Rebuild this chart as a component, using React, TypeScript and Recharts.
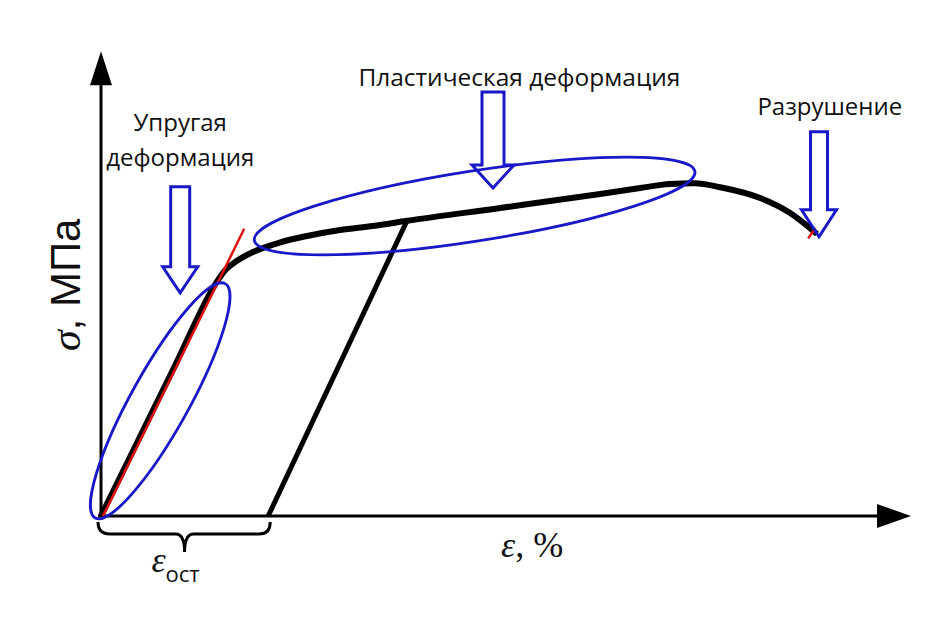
import React from "react";
import { LineChart, Line, XAxis, YAxis, ReferenceLine, ReferenceDot } from "recharts";

// stress-strain curve (schematic units)
const loadStrain = [0, 4.6, 9.3, 14.5, 15.6, 17, 19, 22.4, 25.75, 29.9, 34, 38.25, 49.9, 62.4, 67.4, 71.1, 74.25, 77.4, 82.4, 86.1, 89.5];
const loadStress = [0, 9.35, 18.9, 29.3, 30.8, 31.9, 33, 34.2, 35, 35.75, 36.25, 36.9, 38.5, 40.25, 41, 41.5, 41.6, 41.1, 39.75, 37.9, 35.25];
const unloadStrain = [38.25, 20.9];
const unloadStress = [36.9, 0];
const hookeStrain = [0.25, 17.9];
const hookeStress = [0, 35.9];

const labelElastic = ["Упругая", "деформация"];
const labelPlastic = "Пластическая деформация";
const labelFracture = "Разрушение";

const toPoints = (xs: number[], ys: number[]) => xs.map((x, i) => ({ x, y: ys[i] }));
const loadData = toPoints(loadStrain, loadStress);
const unloadData = toPoints(unloadStrain, unloadStress);
const hookeData = toPoints(hookeStrain, hookeStress);

const BLUE = "#1818c8";
const SANS = "'Open Sans', sans-serif";
const SERIF = "'Liberation Serif', serif";

const arrowShape = (len: number, shaft: number, headLen: number, headHalf: number) => (p: any) => {
  const { cx, cy } = p;
  const d = `M${cx},${cy} L${cx - headHalf},${cy - headLen} L${cx - shaft},${cy - headLen} L${cx - shaft},${cy - len} L${cx + shaft},${cy - len} L${cx + shaft},${cy - headLen} L${cx + headHalf},${cy - headLen} Z`;
  return <path d={d} fill="none" stroke={BLUE} strokeWidth={3} strokeLinejoin="miter" />;
};

const ellipseShape = (rx: number, ry: number, angle: number) => (p: any) => (
  <ellipse cx={p.cx} cy={p.cy} rx={rx} ry={ry} transform={`rotate(${angle} ${p.cx} ${p.cy})`} fill="none" stroke={BLUE} strokeWidth={2.8} />
);

const textShape = (lines: string[], size: number, gap: number) => (p: any) => (
  <text x={p.cx} y={p.cy} textAnchor="middle" fontFamily={SANS} fontSize={size} fill="#111">
    {lines.map((t, i) => (
      <tspan key={i} x={p.cx} dy={i === 0 ? 0 : gap}>{t}</tspan>
    ))}
  </text>
);

const xAxisShape = (p: any) => (
  <g>
    <line x1={p.x1 - 3} y1={p.y1} x2={p.x2 - 30} y2={p.y2} stroke="#000" strokeWidth={3} />
    <polygon points={`${p.x2},${p.y2} ${p.x2 - 34},${p.y2 - 12} ${p.x2 - 34},${p.y2 + 12}`} fill="#000" />
  </g>
);

const yAxisShape = (p: any) => (
  <g>
    <line x1={p.x1} y1={p.y1 + 1} x2={p.x2} y2={p.y2 + 30} stroke="#000" strokeWidth={3} />
    <polygon points={`${p.x2},${p.y2} ${p.x2 - 11},${p.y2 + 34} ${p.x2 + 11},${p.y2 + 34}`} fill="#000" />
  </g>
);

const braceShape = (p: any) => {
  const y = p.y1;
  const m = (p.x1 + p.x2) / 2;
  const d = `M${p.x1 - 3},${y + 6} Q${p.x1 - 3},${y + 18} ${p.x1 + 9},${y + 18} L${m - 9},${y + 18} Q${m},${y + 18} ${m},${y + 36} Q${m},${y + 18} ${m + 9},${y + 18} L${p.x2 - 9},${y + 18} Q${p.x2 + 2},${y + 18} ${p.x2 + 2},${y + 6}`;
  return <path d={d} fill="none" stroke="#000" strokeWidth={3} />;
};

export default function App() {
  return (
    <div style={{ position: "absolute", left: 0, top: 0, background: "#fff" }}>
      <LineChart width={944} height={638} margin={{ top: 36, right: 27, bottom: 122, left: 101 }}>
        <XAxis type="number" dataKey="x" domain={[0, 102]} hide />
        <YAxis type="number" dataKey="y" domain={[0, 60]} hide />

        <ReferenceLine segment={[{ x: 0, y: 0 }, { x: 101.25, y: 0 }]} ifOverflow="visible" shape={xAxisShape} />
        <ReferenceLine segment={[{ x: 0, y: 0 }, { x: 0, y: 58.1 }]} ifOverflow="visible" shape={yAxisShape} />
        <ReferenceLine segment={[{ x: 0, y: 0 }, { x: 20.9, y: 0 }]} ifOverflow="visible" shape={braceShape} />

        <Line data={loadData} dataKey="y" type="monotone" stroke="#000" strokeWidth={6} dot={false} isAnimationActive={false} />
        <Line data={unloadData} dataKey="y" type="linear" stroke="#000" strokeWidth={5} dot={false} isAnimationActive={false} />
        <Line data={hookeData} dataKey="y" type="linear" stroke="#e01010" strokeWidth={2.5} dot={false} isAnimationActive={false} />

        <ReferenceLine segment={[{ x: 88.4, y: 34.7 }, { x: 89.3, y: 36 }]} ifOverflow="visible" stroke="#e01010" strokeWidth={2.5} />

        <ReferenceDot x={7.4} y={14.4} r={1} ifOverflow="visible" shape={ellipseShape(134, 29, -61)} />
        <ReferenceDot x={46.7} y={38.75} r={1} ifOverflow="visible" shape={ellipseShape(223, 35, -8.9)} />

        <ReferenceDot x={9.9} y={27.9} r={1} ifOverflow="visible" shape={arrowShape(106, 9.5, 26, 17.5)} />
        <ReferenceDot x={49} y={41} r={1} ifOverflow="visible" shape={arrowShape(96, 11, 23, 21)} />
        <ReferenceDot x={89.75} y={34.9} r={1} ifOverflow="visible" shape={arrowShape(105, 8.5, 27, 17.5)} />

        <ReferenceDot x={9.9} y={48.1} r={1} ifOverflow="visible" shape={textShape(labelElastic, 24, 35)} />
        <ReferenceDot x={52.3} y={53.75} r={1} ifOverflow="visible" shape={textShape([labelPlastic], 24.5, 0)} />
        <ReferenceDot x={91.1} y={50.1} r={1} ifOverflow="visible" shape={textShape([labelFracture], 24, 0)} />

        <ReferenceDot
          x={-2.6}
          y={28.9}
          r={1}
          ifOverflow="visible"
          shape={(p: any) => (
            <text x={p.cx} y={p.cy} transform={`rotate(-90 ${p.cx} ${p.cy})`} textAnchor="middle" fontSize={42} fill="#111">
              <tspan fontFamily={SERIF} fontStyle="italic">σ</tspan>
              <tspan fontFamily="'Liberation Sans', sans-serif">, МПа</tspan>
            </text>
          )}
        />
        <ReferenceDot
          x={50}
          y={-5.1}
          r={1}
          ifOverflow="visible"
          shape={(p: any) => (
            <text x={p.cx} y={p.cy} fontFamily={SERIF} fontSize={36} fill="#111">
              <tspan fontStyle="italic">ε</tspan>, %
            </text>
          )}
        />
        <ReferenceDot
          x={6.3}
          y={-7}
          r={1}
          ifOverflow="visible"
          shape={(p: any) => (
            <text x={p.cx} y={p.cy} fill="#111">
              <tspan fontFamily={SERIF} fontStyle="italic" fontSize={36}>ε</tspan>
              <tspan fontFamily={SANS} fontSize={22} dy={10}>ост</tspan>
            </text>
          )}
        />
      </LineChart>
    </div>
  );
}
